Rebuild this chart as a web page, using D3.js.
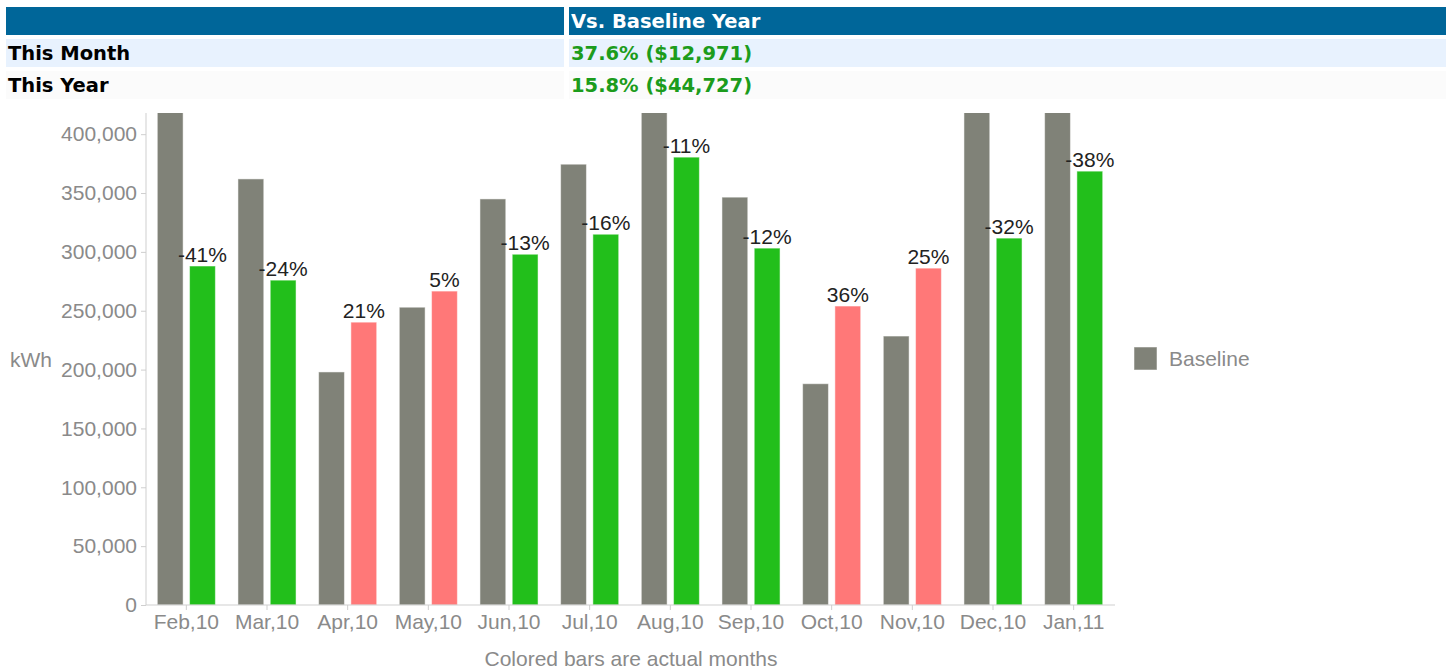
<!DOCTYPE html>
<meta charset="utf-8">
<head>
<style>
  body { margin: 0; background: #fff; }
  .cell { position: absolute; height: 28px; line-height: 29px; font-family: "DejaVu Sans", Verdana, sans-serif;
          font-weight: bold; font-size: 19.5px; padding-left: 2px; box-sizing: border-box; white-space: nowrap; }
  .axis text { font-family: "Liberation Sans", Arial, sans-serif; font-size: 21px; fill: #8a8a8a; }
  .axis path, .axis line { stroke: #cfcfcf; }
  .lbl { font-family: "Liberation Sans", Arial, sans-serif; font-size: 21px; fill: #222; text-anchor: middle; }
  .note { font-family: "Liberation Sans", Arial, sans-serif; font-size: 21px; fill: #8a8a8a; }
</style>
</head>
<body>
<script src="https://d3js.org/d3.v7.min.js"></script>
<script>
// summary table
var rowNames = ["", "This Month", "This Year"];
var rowValues = ["Vs. Baseline Year", "37.6% ($12,971)", "15.8% ($44,727)"];

// chart data (kWh)
var months = ["Feb,10", "Mar,10", "Apr,10", "May,10", "Jun,10", "Jul,10",
              "Aug,10", "Sep,10", "Oct,10", "Nov,10", "Dec,10", "Jan,11"];
var baseline = [488000, 362000, 198000, 253000, 345000, 374500,
                427500, 346500, 188000, 228500, 458000, 594500];
var actual   = [288000, 276000, 240300, 266700, 298000, 315000,
                380500, 303200, 254000, 286200, 311700, 368600];
var pctLabels = ["-41%", "-24%", "21%", "5%", "-13%", "-16%",
                 "-11%", "-12%", "36%", "25%", "-32%", "-38%"];
var yTicks = [0, 50000, 100000, 150000, 200000, 250000, 300000, 350000, 400000];

// table rows
var rowTop = [7, 39, 71];
var rowBg = ["#006699", "#e8f2fe", "#fbfbfb"];
rowNames.forEach(function(n, i) {
    d3.select("body").append("div").attr("class", "cell")
        .style("left", "6px").style("top", rowTop[i] + "px").style("width", "558px")
        .style("background", rowBg[i]).style("color", "#000").text(n);
    d3.select("body").append("div").attr("class", "cell")
        .style("left", "569px").style("top", rowTop[i] + "px").style("width", "877px")
        .style("background", rowBg[i]).style("color", i == 0 ? "#fff" : "#1c9c1c")
        .text(rowValues[i]);
});

var svg = d3.select("body").append("svg")
    .attr("width", 1452).attr("height", 671)
    .style("position", "absolute").style("left", 0).style("top", 0);

// plot area
var pLeft = 146, pRight = 1114, pTop = 113, pBottom = 605;

var x = d3.scaleBand().domain(months).range([pLeft, pRight])
    .paddingInner(0.28).paddingOuter(0.14);
var x1 = d3.scaleBand().domain(["base", "act"]).range([0, x.bandwidth()]).paddingInner(0.2);
var y = d3.scaleLinear().domain([0, 418000]).range([pBottom, pTop]);

svg.append("clipPath").attr("id", "plot")
    .append("rect").attr("x", pLeft).attr("y", pTop)
    .attr("width", pRight - pLeft).attr("height", pBottom - pTop);

var bars = svg.append("g").attr("clip-path", "url(#plot)");

// baseline bars
bars.selectAll(".base").data(baseline).enter().append("rect")
    .attr("x", function(d, i) { return x(months[i]) + x1("base"); })
    .attr("y", function(d) { return y(d); })
    .attr("width", x1.bandwidth())
    .attr("height", function(d) { return pBottom - y(d); })
    .attr("fill", "#808278")
    .attr("stroke", "#fff").attr("stroke-opacity", 0.5);

// actual bars, green when below baseline
bars.selectAll(".act").data(actual).enter().append("rect")
    .attr("x", function(d, i) { return x(months[i]) + x1("act"); })
    .attr("y", function(d) { return y(d); })
    .attr("width", x1.bandwidth())
    .attr("height", function(d) { return pBottom - y(d); })
    .attr("fill", function(d, i) { return d < baseline[i] ? "#22bf1b" : "#ff7878"; })
    .attr("stroke", "#fff").attr("stroke-opacity", 0.5);

// percentage labels
svg.selectAll(".lbl").data(actual).enter().append("text")
    .attr("class", "lbl")
    .attr("x", function(d, i) { return x(months[i]) + x1("act") + x1.bandwidth() / 2; })
    .attr("y", function(d) { return y(d) - 4; })
    .text(function(d, i) { return pctLabels[i]; });

// axes
svg.append("g").attr("class", "axis")
    .attr("transform", "translate(" + pLeft + ",0)")
    .call(d3.axisLeft(y).tickValues(yTicks).tickSize(5).tickPadding(4).tickFormat(d3.format(",")))
    .call(function(g) { g.select(".domain").attr("d", "M0," + pTop + "V" + pBottom); });

svg.append("g").attr("class", "axis")
    .attr("transform", "translate(0," + pBottom + ")")
    .call(d3.axisBottom(x).tickSize(5).tickPadding(4).tickSizeOuter(0))
    .call(function(g) { g.select(".domain").attr("d", "M" + pLeft + ",0H" + (pRight + 1)); });

svg.append("text").attr("class", "note")
    .attr("x", 10).attr("y", 367).text("kWh");

svg.append("text").attr("class", "note")
    .attr("x", 631).attr("y", 666).attr("text-anchor", "middle")
    .text("Colored bars are actual months");

// legend
svg.append("rect").attr("x", 1134).attr("y", 347).attr("width", 23).attr("height", 23)
    .attr("fill", "#808278").attr("stroke", "#fff").attr("stroke-opacity", 0.5);
svg.append("text").attr("class", "note")
    .attr("x", 1169).attr("y", 366).text("Baseline");
</script>
</body>
</html>
